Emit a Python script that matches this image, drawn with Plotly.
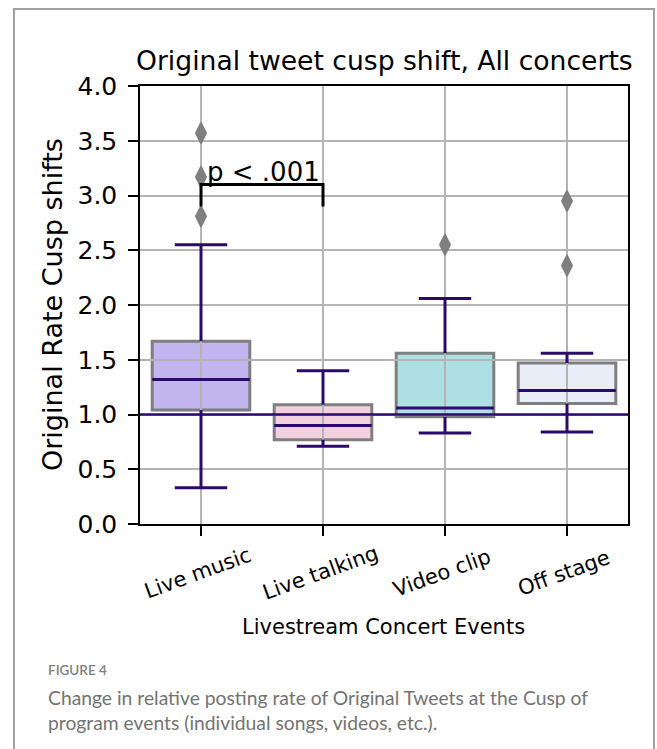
import plotly.graph_objects as go

# Livestream concert events and their box-plot summaries
categories = ["Live music", "Live talking", "Video clip", "Off stage"]
lower_whisker = [0.33, 0.71, 0.83, 0.84]
q1 = [1.04, 0.77, 0.98, 1.10]
median = [1.32, 0.90, 1.06, 1.22]
q3 = [1.67, 1.09, 1.56, 1.47]
upper_whisker = [2.55, 1.40, 2.06, 1.56]
outliers = [[2.81, 3.17, 3.57], [], [2.55], [2.36, 2.95]]
box_colors = ["#c3b5ef", "#f1d1de", "#aedfe2", "#e8edf8"]

y_ticks = [0.0, 0.5, 1.0, 1.5, 2.0, 2.5, 3.0, 3.5, 4.0]
reference_level = 1.0
bracket_pair = (0, 1)
bracket_low, bracket_high = 2.9, 3.1
bracket_label = "p < .001"

W, H = 657, 749
L, R, T, B = 140, 29, 86, 225
PW, PH = W - L - R, H - T - B

PURPLE = "#2c0a6b"
EDGE = "#7f7f7f"
FONT = "DejaVu Sans"


def px_x(x):
    return (x - L) / PW


def px_y(y):
    return (H - B - y) / PH


fig = go.Figure()
shapes = []
half_box, half_cap = 0.4, 0.215

for i in range(len(categories)):
    shapes.append(dict(type="rect", xref="x", yref="y", layer="below",
                       x0=i - half_box, x1=i + half_box, y0=q1[i], y1=q3[i],
                       fillcolor=box_colors[i], line=dict(color=EDGE, width=3)))

# whiskers, caps and medians
wx, wy = [], []
for i in range(len(categories)):
    wx += [i, i, None, i, i, None]
    wy += [q3[i], upper_whisker[i], None, q1[i], lower_whisker[i], None]
    wx += [i - half_cap, i + half_cap, None, i - half_cap, i + half_cap, None]
    wy += [upper_whisker[i], upper_whisker[i], None, lower_whisker[i], lower_whisker[i], None]
    wx += [i - half_box, i + half_box, None]
    wy += [median[i], median[i], None]
fig.add_trace(go.Scatter(x=wx, y=wy, mode="lines", line=dict(color=PURPLE, width=3),
                         hoverinfo="skip", showlegend=False))

# outlier points
ox, oy = [], []
for i, pts in enumerate(outliers):
    ox += [i] * len(pts)
    oy += pts
fig.add_trace(go.Scatter(x=ox, y=oy, mode="markers",
                         marker=dict(symbol="diamond-tall", size=15, color="#7f7f7f",
                                     line=dict(color="#7f7f7f", width=1.5)),
                         showlegend=False))

# reference line
shapes.append(dict(type="line", xref="paper", yref="y", x0=0, x1=1,
                   y0=reference_level, y1=reference_level,
                   line=dict(color=PURPLE, width=2.5), layer="above"))

# significance bracket
a, b = bracket_pair
fig.add_trace(go.Scatter(x=[a, a, b, b], y=[bracket_low, bracket_high, bracket_high, bracket_low],
                         mode="lines", line=dict(color="black", width=3),
                         hoverinfo="skip", showlegend=False))

# figure frame
shapes.append(dict(type="rect", xref="paper", yref="paper",
                   x0=px_x(14), x1=px_x(654), y0=px_y(770), y1=px_y(9),
                   line=dict(color="#a0a0a0", width=2), layer="below"))

annotations = [
    dict(text=bracket_label, x=a + 0.03, y=bracket_high, xref="x", yref="y",
         xanchor="left", yanchor="bottom", yshift=-4, showarrow=False,
         font=dict(family=FONT, size=26, color="black")),
    dict(text="Original tweet cusp shift, All concerts", x=0.5, y=px_y(61),
         xref="paper", yref="paper", xanchor="center", yanchor="middle", showarrow=False,
         font=dict(family=FONT, size=26.6, color="black")),
    dict(text="Original Rate Cusp shifts", x=px_x(52), y=0.5, xref="paper", yref="paper",
         textangle=-90, xanchor="center", yanchor="middle", showarrow=False,
         font=dict(family=FONT, size=27, color="black")),
    dict(text="Livestream Concert Events", x=px_x(383), y=px_y(627), xref="paper", yref="paper",
         xanchor="center", yanchor="middle", showarrow=False,
         font=dict(family=FONT, size=21, color="black")),
    dict(text="FIGURE 4", x=px_x(46), y=px_y(670), xref="paper", yref="paper",
         xanchor="left", yanchor="middle", showarrow=False,
         font=dict(family="Lato", size=13.5, color="#808080", weight=600)),
    dict(text="Change in relative posting rate of Original Tweets at the Cusp of",
         x=px_x(46), y=px_y(697), xref="paper", yref="paper",
         xanchor="left", yanchor="middle", showarrow=False,
         font=dict(family="Lato", size=19.3, color="#737373")),
    dict(text="program events (individual songs, videos, etc.).",
         x=px_x(46), y=px_y(722), xref="paper", yref="paper",
         xanchor="left", yanchor="middle", showarrow=False,
         font=dict(family="Lato", size=19.3, color="#737373")),
]

# rotated category labels centred under their ticks
for i, name in enumerate(categories):
    annotations.append(dict(text=name, x=i, y=px_y(573), xref="x", yref="paper",
                            textangle=-20, xanchor="center", yanchor="middle",
                            xshift=-3, showarrow=False,
                            font=dict(family=FONT, size=21, color="black")))

fig.update_layout(
    width=W, height=H,
    margin=dict(l=L, r=R, t=T, b=B, pad=0),
    paper_bgcolor="white", plot_bgcolor="white",
    shapes=shapes, annotations=annotations, showlegend=False,
    xaxis=dict(range=[-0.5, 3.5], tickvals=list(range(len(categories))),
               showticklabels=False, ticks="outside", ticklen=10, tickwidth=1.5,
               tickcolor="black", showgrid=True, gridcolor="#b4b4b4", gridwidth=1.5,
               showline=True, linecolor="black", linewidth=1.5, mirror=True,
               zeroline=False, fixedrange=True),
    yaxis=dict(range=[0, 4], tickvals=y_ticks, tickformat=".1f",
               ticks="outside", ticklen=10, tickwidth=1.5, tickcolor="black",
               tickfont=dict(family=FONT, size=25, color="black"),
               ticklabelstandoff=6,
               showgrid=True, gridcolor="#b4b4b4", gridwidth=1.5,
               showline=True, linecolor="black", linewidth=1.5, mirror=True,
               zeroline=False, fixedrange=True),
)

fig.write_html("out.html")
